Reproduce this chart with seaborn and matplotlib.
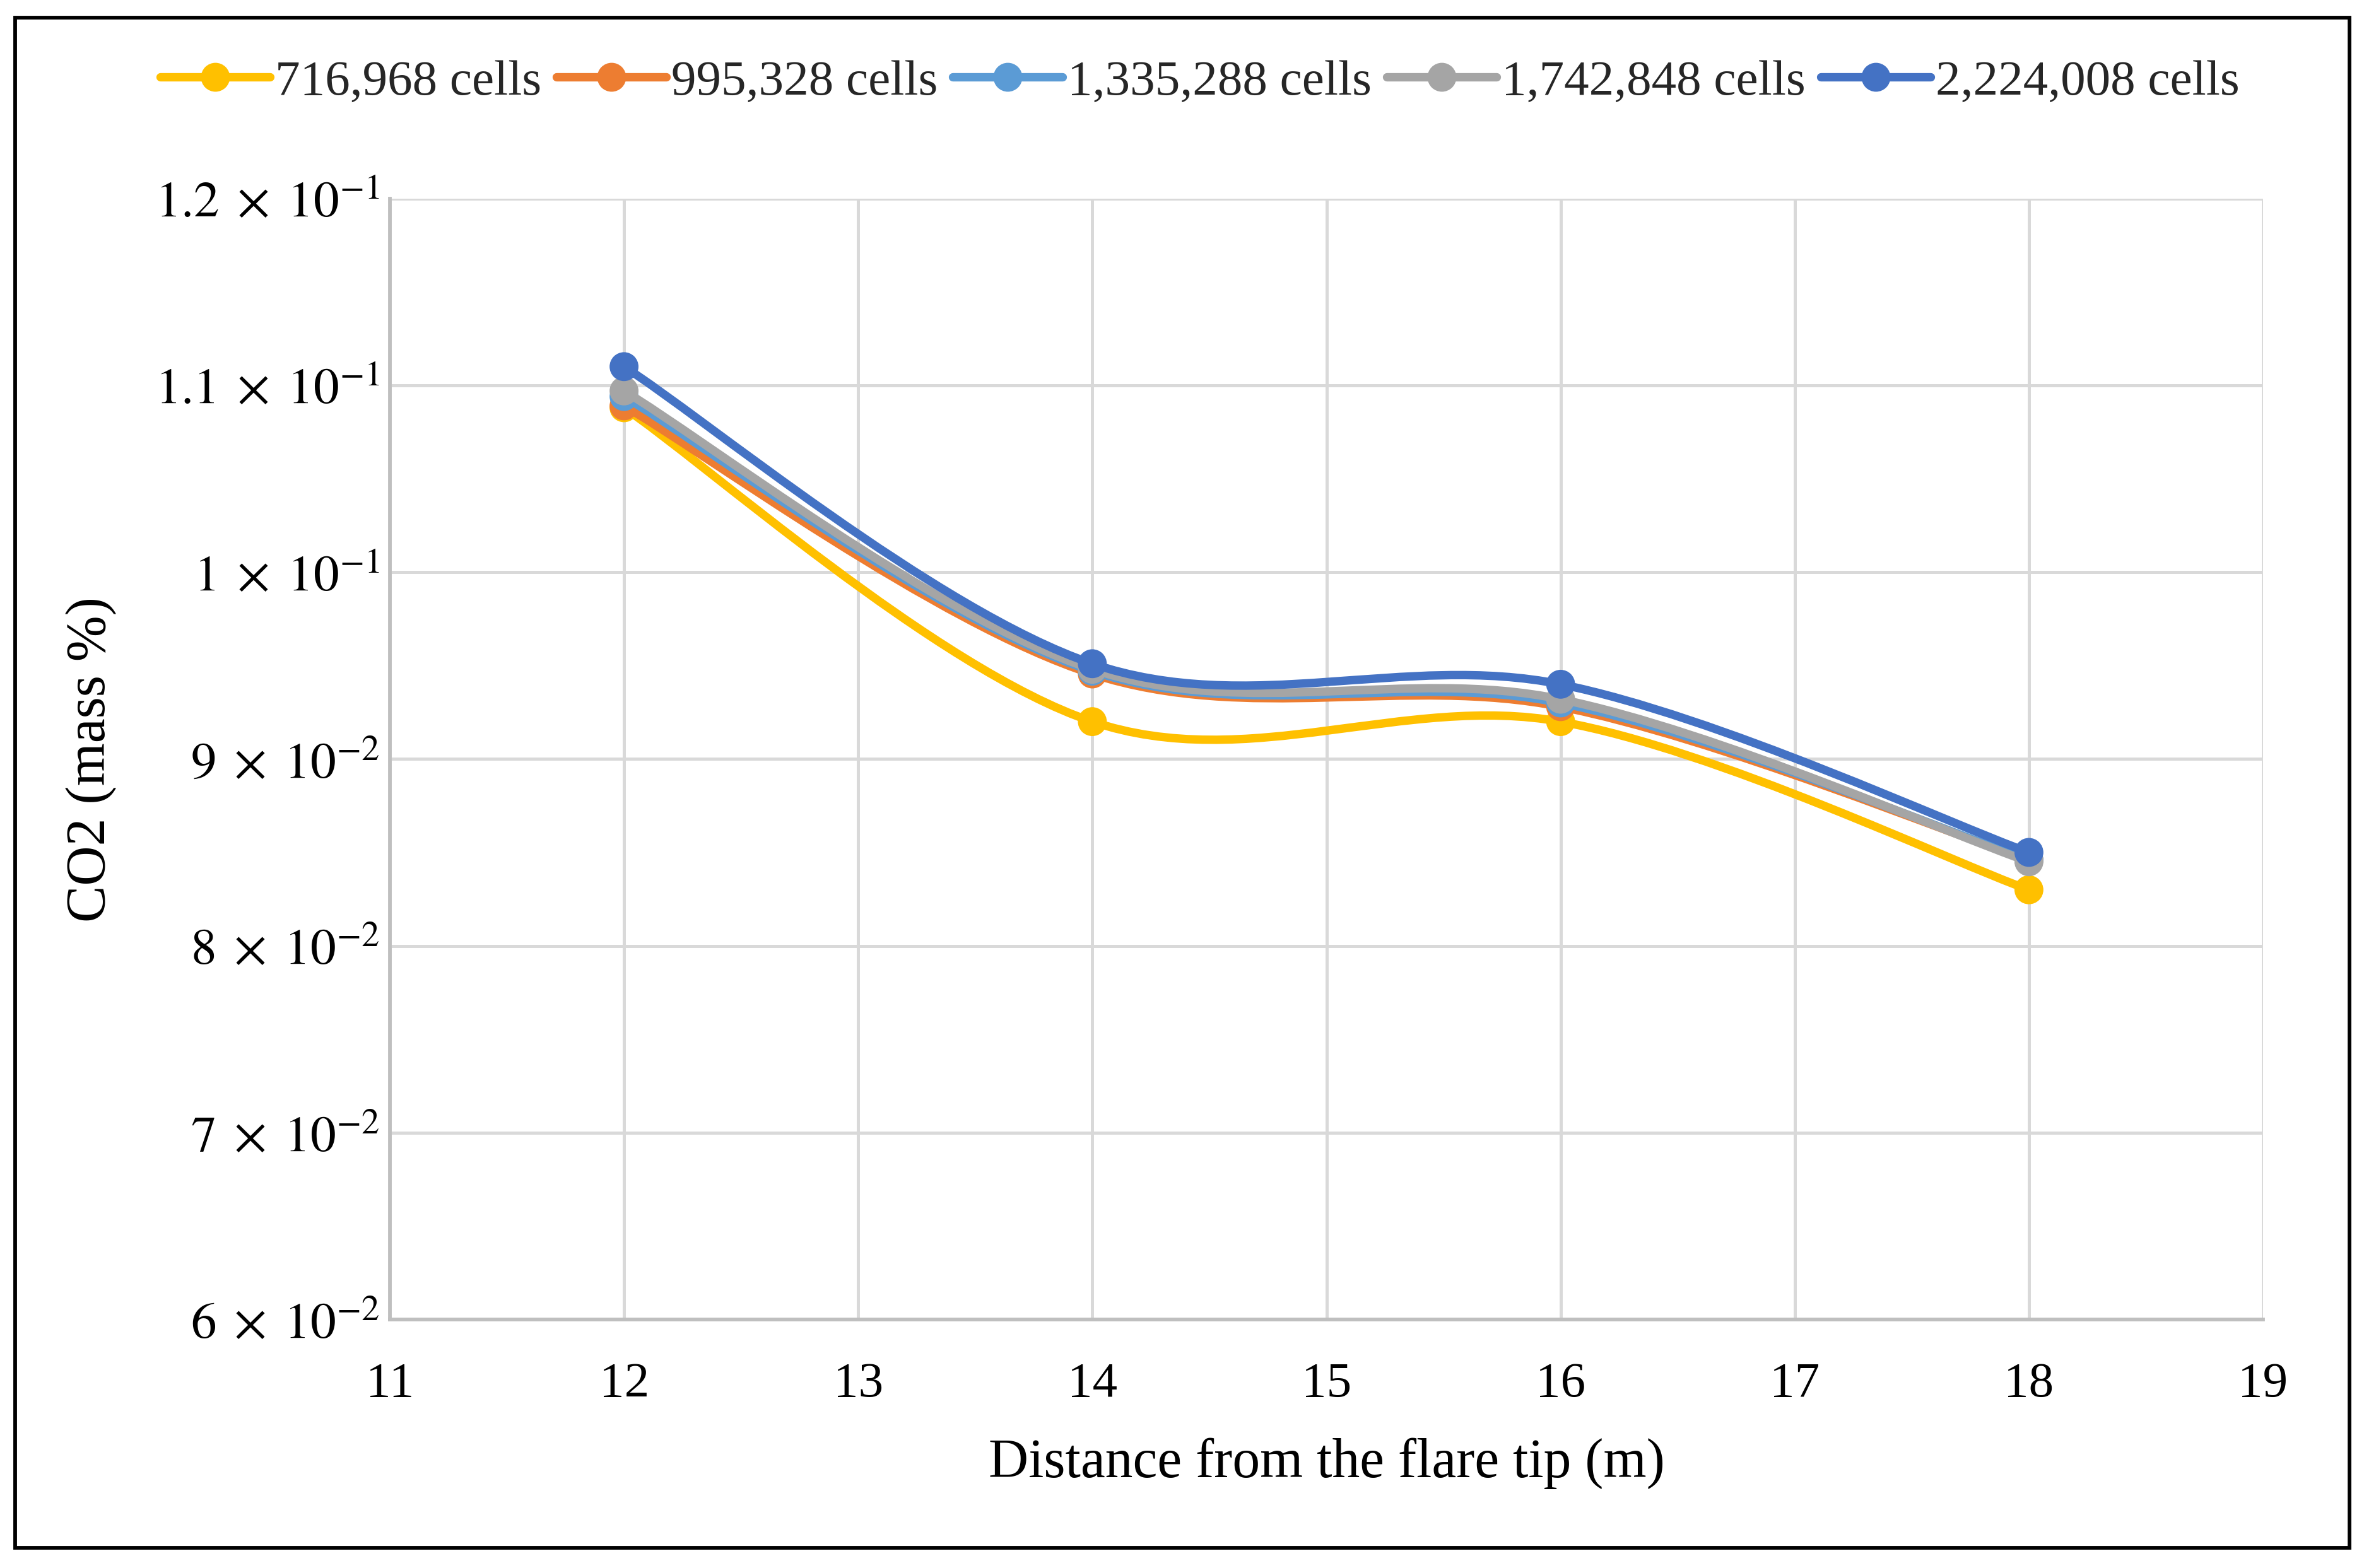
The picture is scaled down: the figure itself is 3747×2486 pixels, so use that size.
import numpy as np
import pandas as pd
import seaborn as sns
import matplotlib
matplotlib.use("Agg")
import matplotlib.pyplot as plt
from matplotlib.path import Path
from matplotlib.patches import PathPatch, Rectangle
from matplotlib.lines import Line2D

# ---------------- data ----------------
distance = [12, 14, 16, 18]
series_names = ["716,968 cells", "995,328 cells", "1,335,288 cells",
                "1,742,848 cells", "2,224,008 cells"]
co2_716968 = [0.1088, 0.0920, 0.0920, 0.0830]
co2_995328 = [0.1089, 0.09455, 0.0928, 0.0846]
co2_1335288 = [0.1094, 0.0947, 0.0930, 0.0846]
co2_1742848 = [0.1097, 0.0948, 0.0932, 0.0845]
co2_2224008 = [0.1110, 0.0951, 0.0940, 0.0850]
series_values = [co2_716968, co2_995328, co2_1335288, co2_1742848, co2_2224008]
colors = ["#FFC000", "#ED7D31", "#5B9BD5", "#A5A5A5", "#4472C4"]

x_ticks = [11, 12, 13, 14, 15, 16, 17, 18, 19]
y_ticks = [0.06, 0.07, 0.08, 0.09, 0.10, 0.11, 0.12]
y_tick_labels = [r"$6\;\times\;10^{-2}$", r"$7\;\times\;10^{-2}$", r"$8\;\times\;10^{-2}$",
                 r"$9\;\times\;10^{-2}$", r"$1\;\times\;10^{-1}$", r"$1.1\;\times\;10^{-1}$",
                 r"$1.2\;\times\;10^{-1}$"]
x_label = "Distance from the flare tip (m)"
y_label = "CO2 (mass %)"

df = pd.DataFrame({
    "distance": np.tile(distance, len(series_names)),
    "co2": np.concatenate(series_values),
    "series": np.repeat(series_names, len(distance)),
})

# ---------------- style ----------------
sns.set_theme(style="white")
plt.rcParams["font.family"] = ["Liberation Serif", "DejaVu Serif"]
plt.rcParams["mathtext.fontset"] = "stix"

W, H, DPI = 3747, 2487, 300
fig = plt.figure(figsize=(W / DPI, H / DPI), dpi=DPI)
fig.patch.set_facecolor("white")
ax = fig.add_axes([618 / W, 1 - 2093 / H, (3587 - 618) / W, (2093 - 315.7) / H])

LW = 3.2
MS = 11


def smooth_path(xs, ys):
    """Excel-like smoothed line: cubic Bezier segments through the data points."""
    n = len(xs)
    verts = [(xs[0], ys[0])]
    codes = [Path.MOVETO]
    for i in range(n - 1):
        x0, y0 = (xs[i - 1], ys[i - 1]) if i > 0 else (xs[i], ys[i])
        x1, y1 = xs[i], ys[i]
        x2, y2 = xs[i + 1], ys[i + 1]
        x3, y3 = (xs[i + 2], ys[i + 2]) if i + 2 < n else (xs[i + 1], ys[i + 1])
        c1 = (x1 + (x2 - x0) / 6, y1 + (y2 - y0) / 6)
        c2 = (x2 - (x3 - x1) / 6, y2 - (y3 - y1) / 6)
        verts += [c1, c2, (x2, y2)]
        codes += [Path.CURVE4] * 3
    return Path(verts, codes)


for k, (name, col) in enumerate(zip(series_names, colors)):
    sub = df[df["series"] == name]
    patch = PathPatch(smooth_path(sub["distance"].tolist(), sub["co2"].tolist()),
                      facecolor="none", edgecolor=col, lw=LW, zorder=3 + 2 * k,
                      capstyle="round", joinstyle="round")
    ax.add_patch(patch)
    sns.scatterplot(data=sub, x="distance", y="co2", color=col, s=MS ** 2,
                    edgecolor="none", linewidth=0, ax=ax, zorder=4 + 2 * k,
                    legend=False)

ax.set_xlim(11, 19)
ax.set_ylim(0.06, 0.12)
ax.set_xticks(x_ticks)
ax.set_xticklabels([str(t) for t in x_ticks], fontsize=19)
ax.set_yticks(y_ticks)
ax.set_yticklabels(y_tick_labels, fontsize=19.5)
ax.tick_params(axis="both", length=0, colors="black")
ax.tick_params(axis="x", pad=16)
ax.tick_params(axis="y", pad=4)

ax.grid(True, color="#D9D9D9", lw=1.2, zorder=0)
ax.set_axisbelow(True)
for side in ["top", "right"]:
    ax.spines[side].set_visible(False)
for side in ["left", "bottom"]:
    ax.spines[side].set_color("#BFBFBF")
    ax.spines[side].set_linewidth(1.4)
    ax.spines[side].set_zorder(1)

ax.set_xlabel(x_label, fontsize=21, labelpad=11.5, color="black")
ax.set_ylabel(y_label, fontsize=21, labelpad=14.5, color="black")

handles = [Line2D([0], [0], color=c, lw=LW, marker="o", markersize=MS,
                  markeredgewidth=0) for c in colors]
fig.legend(handles, series_names, loc="center", bbox_to_anchor=(0.5075, 1 - 131 / H),
           ncol=5, frameon=False, fontsize=19, handlelength=2.2, handletextpad=0.1,
           columnspacing=0.3, borderaxespad=0)

# outer black frame
fig.patches.append(Rectangle((24 / W, 1 - 2455 / H), (3724 - 24) / W, (2455 - 29) / H,
                             transform=fig.transFigure, fill=False, edgecolor="black",
                             lw=1.4, zorder=10))

fig.savefig("out.png", dpi=DPI, facecolor="white")
